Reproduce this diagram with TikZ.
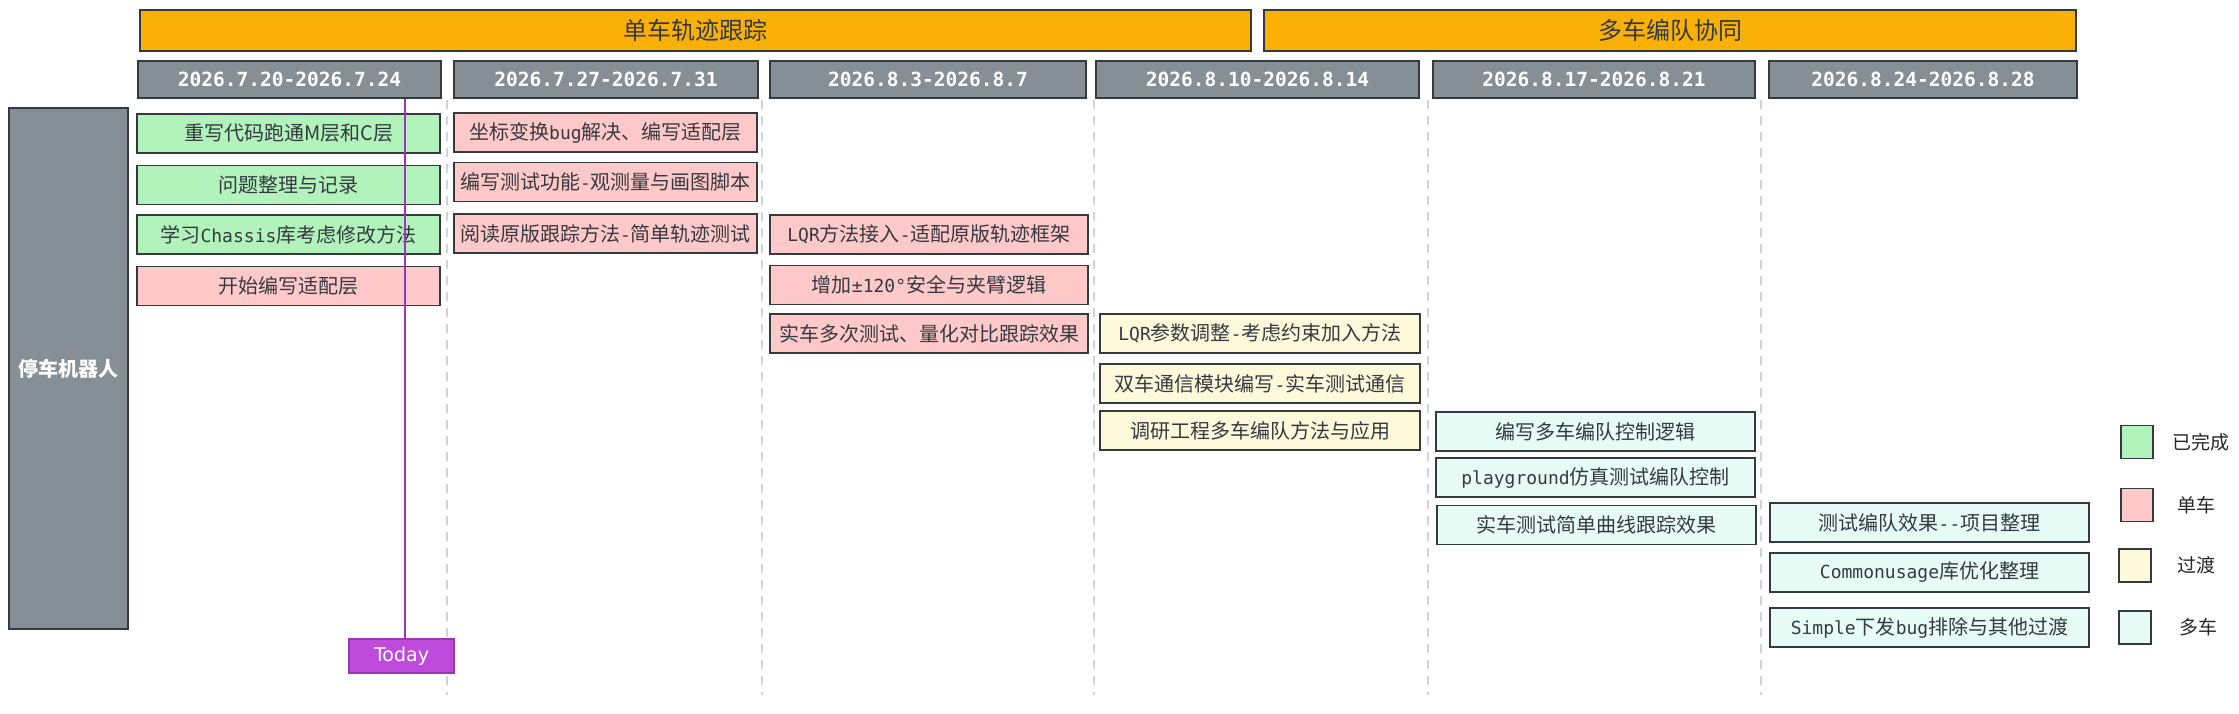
\documentclass[tikz,border=0pt]{standalone}
\usepackage{fontspec}
\setmainfont{Noto Sans CJK SC}
\setmonofont[Scale=0.9]{DejaVu Sans Mono}
\newfontfamily\datefont{DejaVu Sans Mono}
\newfontfamily\todayfont{DejaVu Sans}
\usetikzlibrary{positioning}

\definecolor{phaseorange}{HTML}{FAB005}
\definecolor{headgray}{HTML}{868E96}
\definecolor{donegreen}{HTML}{B2F2BB}
\definecolor{singlepink}{HTML}{FFC9C9}
\definecolor{transyellow}{HTML}{FFF9DB}
\definecolor{multicyan}{HTML}{E6FCF5}
\definecolor{inkgray}{HTML}{343A40}
\definecolor{sepgray}{HTML}{CED4DA}
\definecolor{todayfill}{HTML}{BE4BDB}
\definecolor{todaydraw}{HTML}{9C36B5}

\begin{document}
\begin{tikzpicture}[x=1pt,y=-1pt,
  box/.style={rectangle,draw=inkgray,line width=1.3pt,inner sep=0pt,minimum height=39pt,text=inkgray,font=\fontsize{20}{24}\selectfont},
  donebox/.style={box,fill=donegreen},
  singlebox/.style={box,fill=singlepink},
  transbox/.style={box,fill=transyellow},
  multibox/.style={box,fill=multicyan},
  datebox/.style={box,fill=headgray,minimum height=37pt,text=white,font=\datefont\bfseries\fontsize{19.5}{23}\selectfont},
  phasebox/.style={box,fill=phaseorange,minimum height=41pt,font=\fontsize{24}{28}\selectfont},
  lanebox/.style={box,fill=headgray,text=white,font=\bfseries\fontsize{20}{24}\selectfont},
  legendbox/.style={rectangle,draw=inkgray,line width=1.3pt,minimum width=32pt,minimum height=33pt,inner sep=0pt},
  legendtext/.style={text=black!85,font=\fontsize{19}{22}\selectfont},
  sepline/.style={sepgray,line width=1.4pt,dash pattern=on 9pt off 7pt},
  todayline/.style={todaydraw,line width=1.2pt}]
 \useasboundingbox (0,0) rectangle (2239,713);
 \foreach \sx in {447,762,1094,1428,1761}
   \draw[sepline] (\sx,100) -- (\sx,695);

 \node[phasebox,minimum width=1111pt] (ph1) at (695.5,30.5) {单车轨迹跟踪};
 \node[phasebox,minimum width=812pt] (ph2) at (1670,30.5) {多车编队协同};

 \node[datebox,minimum width=303pt] (d1) at (289.5,79.5) {2026.7.20-2026.7.24};
 \node[datebox,minimum width=304pt] (d2) at (606,79.5) {2026.7.27-2026.7.31};
 \node[datebox,minimum width=316pt] (d3) at (928,79.5) {2026.8.3-2026.8.7};
 \node[datebox,minimum width=323pt] (d4) at (1257.5,79.5) {2026.8.10-2026.8.14};
 \node[datebox,minimum width=322pt] (d5) at (1594,79.5) {2026.8.17-2026.8.21};
 \node[datebox,minimum width=308pt] (d6) at (1923,79.5) {2026.8.24-2026.8.28};

 \node[lanebox,minimum width=119pt,minimum height=521pt] (lane) at (68.5,368.5) {停车机器人};

 \node[donebox,minimum width=303pt] (c1r1) at (288.5,133.5) {重写代码跑通M层和C层};
 \node[donebox,minimum width=303pt] (c1r2) at (288.5,185) {问题整理与记录};
 \node[donebox,minimum width=303pt] (c1r3) at (288.5,234.5) {学习\texttt{Chassis}库考虑修改方法};
 \node[singlebox,minimum width=303pt] (c1r4) at (288.5,286) {开始编写适配层};

 \node[singlebox,minimum width=303pt] (c2r1) at (605.5,132.5) {坐标变换\texttt{bug}解决、编写适配层};
 \node[singlebox,minimum width=303pt] (c2r2) at (605.5,182) {编写测试功能\texttt{-}观测量与画图脚本};
 \node[singlebox,minimum width=303pt] (c2r3) at (605.5,233.5) {阅读原版跟踪方法\texttt{-}简单轨迹测试};

 \node[singlebox,minimum width=318pt] (c3r1) at (929,234.5) {\texttt{LQR}方法接入\texttt{-}适配原版轨迹框架};
 \node[singlebox,minimum width=318pt] (c3r2) at (929,285) {增加\texttt{±120°}安全与夹臂逻辑};
 \node[singlebox,minimum width=318pt] (c3r3) at (929,333.5) {实车多次测试、量化对比跟踪效果};

 \node[transbox,minimum width=320pt] (c4r1) at (1260,333.5) {\texttt{LQR}参数调整\texttt{-}考虑约束加入方法};
 \node[transbox,minimum width=320pt] (c4r2) at (1260,383.5) {双车通信模块编写\texttt{-}实车测试通信};
 \node[transbox,minimum width=320pt] (c4r3) at (1260,430.5) {调研工程多车编队方法与应用};

 \node[multibox,minimum width=319pt] (c5r1) at (1595.5,431.5) {编写多车编队控制逻辑};
 \node[multibox,minimum width=319pt] (c5r2) at (1595.5,477.5) {\texttt{playground}仿真测试编队控制};
 \node[multibox,minimum width=319pt] (c5r3) at (1596.5,525) {实车测试简单曲线跟踪效果};

 \node[multibox,minimum width=319pt] (c6r1) at (1929.5,522.5) {测试编队效果\texttt{--}项目整理};
 \node[multibox,minimum width=319pt] (c6r2) at (1929.5,572.5) {\texttt{Commonusage}库优化整理};
 \node[multibox,minimum width=319pt] (c6r3) at (1929.5,627.5) {\texttt{Simple}下发\texttt{bug}排除与其他过渡};

 \node[legendbox,fill=donegreen] (lg1) at (2137,442) {};
 \node[legendbox,fill=singlepink] (lg2) at (2137,505) {};
 \node[legendbox,fill=transyellow] (lg3) at (2135,565.5) {};
 \node[legendbox,fill=multicyan] (lg4) at (2135,627.5) {};
 \node[legendtext,right=15pt of lg1] (lt1) {已完成};
 \node[legendtext,right=20pt of lg2] (lt2) {单车};
 \node[legendtext,right=22pt of lg3] (lt3) {过渡};
 \node[legendtext,right=24pt of lg4] (lt4) {多车};

 \node[rectangle,draw=todaydraw,fill=todayfill,line width=1.3pt,minimum width=105pt,minimum height=34pt,inner sep=0pt,text=white,font=\todayfont\fontsize{19}{22}\selectfont] (today) at (401.5,656) {Today};
 \coordinate (todaytop) at (405,99);
 \draw[todayline] (todaytop) -- (todaytop |- today.north);
\end{tikzpicture}
\end{document}
